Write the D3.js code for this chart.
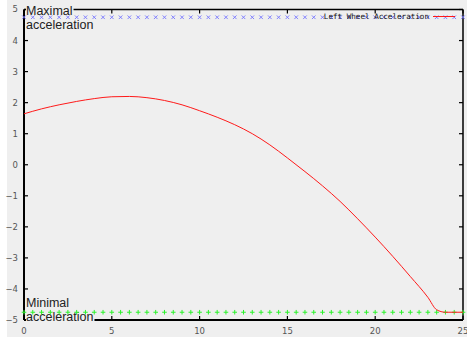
<!DOCTYPE html>
<html>
<head>
<meta charset="utf-8">
<script src="https://cdn.jsdelivr.net/npm/d3@7"></script>
<style>
  body { margin: 0; background: #fff; }
  svg { display: block; }
</style>
</head>
<body>
<div id="chart"></div>
<script>
// Acceleration (red curve)
let timeValues = [0, 1, 2, 3, 4, 5, 6, 7, 8, 9, 10, 11, 12, 13, 14, 15, 16, 17, 18, 19, 20, 21, 22, 23, 23.5, 24, 25];
let accelValues = [1.64, 1.8, 1.93, 2.04, 2.13, 2.19, 2.2, 2.16, 2.07, 1.93, 1.74, 1.53, 1.29, 1.0, 0.64, 0.22, -0.22, -0.68, -1.18, -1.74, -2.33, -2.95, -3.6, -4.27, -4.67, -4.75, -4.75];

// Limits drawn as markers every 0.5
let markerTimes = d3.range(0, 25.01, 0.5);
let maxAccel = 4.75;
let minAccel = -4.75;

let xTicks = [0, 5, 10, 15, 20, 25];
let yTicks = [-5, -4, -3, -2, -1, 0, 1, 2, 3, 4, 5];
let legendLabel = "Left Wheel Acceleration";

let W = 467, H = 337;
let margins = { left: 24, right: 4, top: 9.5, bottom: 17 };

let svg = d3.select("#chart").append("svg")
            .attr("width", W)
            .attr("height", H);

svg.append("rect")
   .attr("x", 7).attr("y", 0)
   .attr("width", W - 7).attr("height", H)
   .attr("fill", "#efefef");

let xScale = d3.scaleLinear().domain([0, 25]).range([margins.left, W - margins.right]);
let yScale = d3.scaleLinear().domain([-5, 5]).range([H - margins.bottom, margins.top]);

// Tick labels
let tickFont = "'DejaVu Sans', sans-serif";
svg.append("g")
   .selectAll("text")
   .data(yTicks)
   .enter().append("text")
   .attr("x", 18)
   .attr("y", d => yScale(d))
   .attr("dy", "0.35em")
   .attr("text-anchor", "end")
   .attr("font-family", tickFont)
   .attr("font-size", 8.5)
   .attr("fill", "#555")
   .text(d => String(d).replace("-", "\u2212"));

svg.append("g")
   .selectAll("text")
   .data(xTicks)
   .enter().append("text")
   .attr("x", d => xScale(d))
   .attr("y", H - 3)
   .attr("text-anchor", "middle")
   .attr("font-family", tickFont)
   .attr("font-size", 8.5)
   .attr("fill", "#555")
   .text(d => d);

// Inner ticks on all four sides
let x0 = xScale(0), x1 = xScale(25), y0 = yScale(-5), y1 = yScale(5);
let tickG = svg.append("g").attr("stroke", "#000").attr("stroke-width", 1.2);
tickG.selectAll(".yl").data(yTicks).enter().append("line")
     .attr("x1", x0).attr("x2", x0 + 4)
     .attr("y1", d => yScale(d)).attr("y2", d => yScale(d));
tickG.selectAll(".yr").data(yTicks).enter().append("line")
     .attr("x1", x1).attr("x2", x1 - 4)
     .attr("y1", d => yScale(d)).attr("y2", d => yScale(d));
tickG.selectAll(".xb").data(xTicks).enter().append("line")
     .attr("x1", d => xScale(d)).attr("x2", d => xScale(d))
     .attr("y1", y0).attr("y2", y0 - 4);
tickG.selectAll(".xt").data(xTicks).enter().append("line")
     .attr("x1", d => xScale(d)).attr("x2", d => xScale(d))
     .attr("y1", y1).attr("y2", y1 + 4);

// Frame
let frame = svg.append("g").attr("stroke", "#000");
frame.append("line").attr("x1", x0).attr("x2", x0).attr("y1", y1).attr("y2", y0).attr("stroke-width", 2);
frame.append("line").attr("x1", x0).attr("x2", x1).attr("y1", y0).attr("y2", y0).attr("stroke-width", 2);
frame.append("line").attr("x1", x0).attr("x2", x1).attr("y1", y1).attr("y2", y1).attr("stroke-width", 1.5);
frame.append("line").attr("x1", x1).attr("x2", x1).attr("y1", y1).attr("y2", y0).attr("stroke-width", 1.5);

// Annotation labels (with background hiding the frame)
let noteFont = "'Liberation Sans', Arial, sans-serif";
let notes = [
  { lines: ["Maximal", "acceleration"], y: 15 },
  { lines: ["Minimal", "acceleration"], y: 307 }
];
let noteG = svg.append("g");
notes.forEach(n => {
  n.lines.forEach((t, i) => {
    let txt = noteG.append("text")
       .attr("x", x0 + 2)
       .attr("y", n.y + i * 14)
       .attr("font-family", noteFont)
       .attr("font-size", 12.5)
       .attr("fill", "#222")
       .text(t);
    let bb = txt.node().getBBox();
    noteG.insert("rect", () => txt.node())
       .attr("x", bb.x).attr("y", bb.y + 2)
       .attr("width", bb.width + 1).attr("height", bb.height - 3)
       .attr("fill", "#efefef");
  });
});

// Max markers (x)
let s = 1.8;
svg.append("g")
   .attr("stroke", "#7474ff").attr("stroke-width", 0.9)
   .selectAll("path")
   .data(markerTimes)
   .enter().append("path")
   .attr("d", d => {
     let cx = xScale(d), cy = yScale(maxAccel);
     return `M${cx - s},${cy - s}L${cx + s},${cy + s}M${cx - s},${cy + s}L${cx + s},${cy - s}`;
   });

// Min markers (+)
let p = 2.3;
svg.append("g")
   .attr("stroke", "#2cf22c").attr("stroke-width", 1)
   .selectAll("path")
   .data(markerTimes)
   .enter().append("path")
   .attr("d", d => {
     let cx = xScale(d), cy = yScale(minAccel);
     return `M${cx - p},${cy}L${cx + p},${cy}M${cx},${cy - p}L${cx},${cy + p}`;
   });

// Acceleration curve
let line = d3.line()
             .x((d, i) => xScale(timeValues[i]))
             .y(d => yScale(d))
             .curve(d3.curveMonotoneX);
svg.append("path")
   .datum(accelValues)
   .attr("d", line)
   .attr("fill", "none")
   .attr("stroke", "#ff1a1a")
   .attr("stroke-width", 1);

// Legend
svg.append("text")
   .attr("x", 429)
   .attr("y", 19)
   .attr("text-anchor", "end")
   .attr("font-family", "'DejaVu Sans Mono', monospace")
   .attr("font-size", 7.6)
   .attr("fill", "#111")
   .text(legendLabel);
svg.append("line")
   .attr("x1", 433).attr("x2", 455)
   .attr("y1", 16.5).attr("y2", 16.5)
   .attr("stroke", "#ff1a1a").attr("stroke-width", 1);
</script>
</body>
</html>
